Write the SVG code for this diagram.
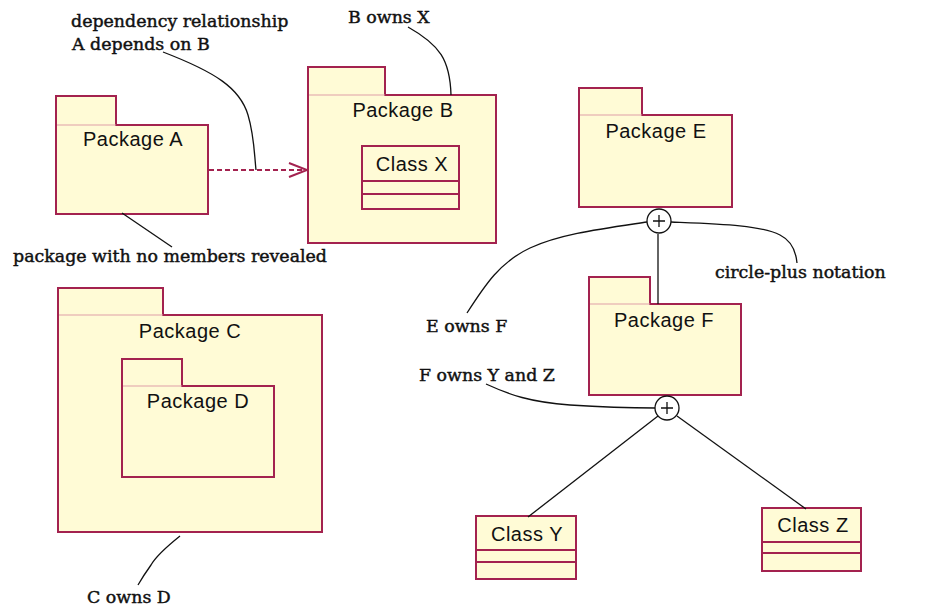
<svg xmlns="http://www.w3.org/2000/svg" width="930" height="609" viewBox="0 0 930 609">
<defs>
<style>
.pkg{fill:#fffbd6;stroke:#a3224f;stroke-width:2}
.sep{stroke:#e0a0a8;stroke-width:1.2;fill:none}
.cls{fill:#fffbd6;stroke:#a3224f;stroke-width:2}
.div{stroke:#a3224f;stroke-width:2;fill:none}
.lbl{font-family:"Liberation Sans",Arial,sans-serif;font-size:20px;letter-spacing:0.5px;fill:#111;text-anchor:middle}
.note{font-family:"DejaVu Serif","Liberation Serif",serif;font-size:17.4px;fill:#111;stroke:#111;stroke-width:0.45}
.lead{stroke:#111;stroke-width:1.3;fill:none}
.own{fill:#fff;stroke:#111;stroke-width:1.3}
.dep{stroke:#a3224f;stroke-width:2;stroke-dasharray:5,3;fill:none}
</style>
<marker id="open" markerWidth="22" markerHeight="18" refX="20" refY="9" orient="auto" markerUnits="userSpaceOnUse">
<path d="M2,2 L20,9 L2,16" fill="none" stroke="#a3224f" stroke-width="2"/>
</marker>
</defs>
<rect width="930" height="609" fill="#fff"/>

<g id="packageA">
<path class="pkg" d="M56,96 H116 V125 H208 V214 H56 Z"/>
<line class="sep" x1="57" y1="125" x2="116" y2="125"/>
<text class="lbl" x="133" y="146">Package A</text>
</g>

<g id="packageB">
<path class="pkg" d="M308,67 H385 V95 H496 V243 H308 Z"/>
<line class="sep" x1="309" y1="95" x2="385" y2="95"/>
<text class="lbl" x="403" y="117">Package B</text>
</g>

<g id="classX">
<rect class="cls" x="362" y="146" width="97" height="63"/>
<line class="div" x1="362" y1="181" x2="459" y2="181"/>
<line class="div" x1="362" y1="194" x2="459" y2="194"/>
<text class="lbl" x="412" y="171">Class X</text>
</g>

<g id="packageC">
<path class="pkg" d="M58,288 H163 V315 H322 V532 H58 Z"/>
<line class="sep" x1="59" y1="315" x2="163" y2="315"/>
<text class="lbl" x="190" y="338">Package C</text>
</g>

<g id="packageD">
<path class="pkg" d="M122,359 H182 V386 H274 V477 H122 Z"/>
<line class="sep" x1="123" y1="386" x2="182" y2="386"/>
<text class="lbl" x="198" y="408">Package D</text>
</g>

<g id="packageE">
<path class="pkg" d="M579,88 H642 V115 H732 V207 H579 Z"/>
<line class="sep" x1="580" y1="115" x2="642" y2="115"/>
<text class="lbl" x="656" y="138">Package E</text>
</g>

<g id="packageF">
<path class="pkg" d="M589,277 H650 V304 H741 V395 H589 Z"/>
<line class="sep" x1="590" y1="304" x2="650" y2="304"/>
<text class="lbl" x="664" y="327">Package F</text>
</g>

<g id="classY">
<rect class="cls" x="476" y="516" width="100" height="63"/>
<line class="div" x1="476" y1="550" x2="576" y2="550"/>
<line class="div" x1="476" y1="562" x2="576" y2="562"/>
<text class="lbl" x="527" y="541">Class Y</text>
</g>

<g id="classZ">
<rect class="cls" x="762" y="508" width="99" height="63"/>
<line class="div" x1="762" y1="542" x2="861" y2="542"/>
<line class="div" x1="762" y1="553" x2="861" y2="553"/>
<text class="lbl" x="813" y="532">Class Z</text>
</g>

<g id="connectors">
<line class="dep" x1="209" y1="170" x2="307" y2="170" marker-end="url(#open)"/>
<line class="lead" x1="658" y1="234" x2="658" y2="304"/>
<line class="lead" x1="658" y1="416" x2="528" y2="517"/>
<line class="lead" x1="677" y1="416" x2="806" y2="509"/>
<path class="lead" d="M163,52 C215,72 240,88 248,115 C254,135 254,150 256,170"/>
<path class="lead" d="M408,27 C440,45 450,60 451,95"/>
<path class="lead" d="M122,213 L172,247"/>
<path class="lead" d="M180,536 C165,548 155,558 151,565 C146,572 142,578 138,585"/>
<path class="lead" d="M647,222 C600,229 560,234 530,248 C500,262 485,285 467,313"/>
<path class="lead" d="M671,222 C720,224 760,225 780,235 C792,241 796,252 797,263"/>
<path class="lead" d="M486,384 C510,395 530,402 570,405 C600,407 630,408 655,408"/>
</g>

<g id="ownE">
<circle class="own" cx="659" cy="221" r="12"/>
<path class="lead" d="M653,221 H665 M659,215 V227"/>
</g>
<g id="ownF">
<circle class="own" cx="667" cy="408" r="12"/>
<path class="lead" d="M661,408 H673 M667,402 V414"/>
</g>

<g id="notes">
<text class="note" x="71" y="27">dependency relationship</text>
<text class="note" x="72" y="50">A depends on B</text>
<text class="note" x="348" y="23">B owns X</text>
<text class="note" x="13" y="262">package with no members revealed</text>
<text class="note" x="87" y="603">C owns D</text>
<text class="note" x="426" y="332">E owns F</text>
<text class="note" x="715" y="278">circle-plus notation</text>
<text class="note" x="419" y="381">F owns Y and Z</text>
</g>
</svg>
